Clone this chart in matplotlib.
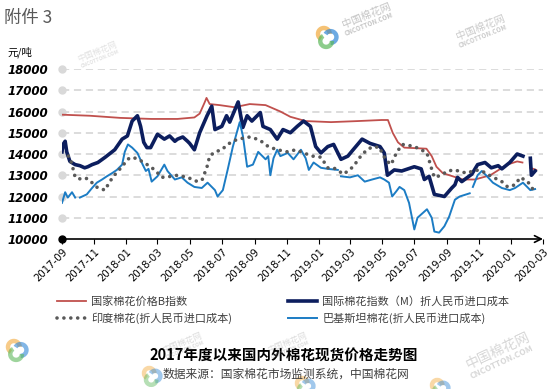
import matplotlib
matplotlib.use('Agg')
import matplotlib.pyplot as plt
import matplotlib.dates as mdates
from matplotlib.patches import Arc
import numpy as np
import pandas as pd

plt.rcParams['font.family'] = ['Noto Sans CJK SC', 'DejaVu Sans']
nan = np.nan

# 国家棉花价格B指数
b_dates = ["2017-09-01", "2017-10-24", "2017-12-20", "2018-02-17", "2018-04-08", "2018-05-10",
           "2018-05-20", "2018-05-29", "2018-06-02", "2018-06-08", "2018-06-27", "2018-07-25",
           "2018-08-23", "2018-09-22", "2018-10-20", "2018-11-08", "2018-12-07", "2019-01-24",
           "2019-03-16", "2019-04-30", "2019-05-12", "2019-05-21", "2019-05-31", "2019-06-12",
           "2019-07-24", "2019-08-03", "2019-08-12", "2019-08-24", "2019-09-12", "2019-10-01",
           "2019-10-24", "2019-11-22", "2019-12-24", "2020-01-12", "2020-01-22", "2020-01-30",
           "2020-02-06", "2020-02-17"]
b_vals = [15850, 15800, 15700, 15650, 15650, 15720,
          15900, 16400, 16640, 16350, 16300, 16200,
          16350, 16300, 16000, 15750, 15550, 15500,
          15550, 15600, 15600, 15000, 14550, 14300,
          14250, 13900, 13400, 13100, 12950, 12800,
          12800, 13000, 13500, 13650, 13600, nan,
          13350, 13250]

# 国际棉花指数（M）折人民币进口成本
m_dates = ["2017-09-01", "2017-09-03", "2017-09-07", "2017-09-10", "2017-09-16", "2017-09-26",
           "2017-10-05", "2017-10-14", "2017-10-20", "2017-10-28", "2017-11-08", "2017-11-22",
           "2017-12-10", "2017-12-24", "2018-01-03", "2018-01-12", "2018-01-22", "2018-01-28",
           "2018-02-03", "2018-02-09", "2018-02-16", "2018-03-01", "2018-03-14", "2018-03-24",
           "2018-04-03", "2018-04-08", "2018-04-18", "2018-04-27", "2018-05-01", "2018-05-10",
           "2018-05-20", "2018-06-03", "2018-06-12", "2018-06-18", "2018-07-01", "2018-07-10",
           "2018-07-16", "2018-08-01", "2018-08-10", "2018-08-18", "2018-08-27", "2018-09-12",
           "2018-09-17", "2018-10-01", "2018-10-14", "2018-10-25", "2018-11-08", "2018-11-21",
           "2018-12-03", "2018-12-16", "2018-12-26", "2019-01-05", "2019-01-18", "2019-01-29",
           "2019-02-12", "2019-02-25", "2019-03-07", "2019-03-24", "2019-04-08", "2019-04-27",
           "2019-05-05", "2019-05-11", "2019-05-24", "2019-06-07", "2019-06-25", "2019-07-01",
           "2019-07-14", "2019-07-20", "2019-07-29", "2019-08-08", "2019-08-27", "2019-09-10",
           "2019-09-16", "2019-09-21", "2019-09-29", "2019-10-18", "2019-10-29", "2019-11-12",
           "2019-11-24", "2019-12-07", "2019-12-14", "2019-12-29", "2020-01-12", "2020-01-23",
           "2020-01-30", "2020-02-06", "2020-02-08", "2020-02-15"]
m_vals = [14100, 14450, 14600, 14100, 13650, 13500,
          13450, 13350, 13400, 13500, 13600, 13850,
          14200, 14700, 14850, 15550, 15800, 15300,
          14550, 14300, 14300, 14930, 14700, 14850,
          14600, 14700, 14800, 14600, 14500, 14200,
          15000, 15800, 16250, 15150, 15300, 15800,
          15500, 16450, 15250, 15800, 15550, 15950,
          15300, 15150, 14700, 15150, 15000, 15300,
          15550, 15300, 14350, 14050, 14350, 14450,
          13750, 13900, 14200, 14700, 14500, 14350,
          14050, 13000, 13250, 13200, 13350, 13400,
          13300, 12800, 12950, 12100, 12000, 12400,
          12550, 12900, 12700, 13050, 13500, 13600,
          13350, 13450, 13300, 13600, 14000, 13900,
          nan, 13800, 13000, 13200]

# 印度棉花(折人民币进口成本)
i_dates = ["2017-09-13", "2017-09-16", "2017-09-22", "2017-09-26", "2017-10-09", "2017-10-18",
           "2017-10-28", "2017-11-08", "2017-11-22", "2017-11-27", "2017-12-06", "2017-12-16",
           "2017-12-24", "2018-01-03", "2018-01-12", "2018-01-24", "2018-02-03", "2018-02-16",
           "2018-02-26", "2018-03-09", "2018-03-28", "2018-04-08", "2018-04-27", "2018-05-16",
           "2018-05-25", "2018-06-03", "2018-06-08", "2018-06-18", "2018-07-01", "2018-07-12",
           "2018-07-22", "2018-08-01", "2018-08-23", "2018-09-06", "2018-09-17", "2018-09-27",
           "2018-10-14", "2018-11-03", "2018-11-18", "2018-12-03", "2018-12-20", "2019-01-05",
           "2019-01-18", "2019-01-29", "2019-02-17", "2019-03-07", "2019-03-20", "2019-04-02",
           "2019-04-14", "2019-04-27", "2019-05-01", "2019-05-11", "2019-05-18", "2019-05-28",
           "2019-06-08", "2019-06-21", "2019-07-01", "2019-07-14", "2019-07-25", "2019-08-04",
           "2019-08-08", "2019-08-21", "2019-09-02", "2019-09-16", "2019-09-29", "2019-10-10",
           "2019-10-24", "2019-11-06", "2019-11-24", "2019-12-14", "2019-12-25", "2020-01-08",
           "2020-01-18", "2020-02-01", "2020-02-12"]
i_vals = [13900, 13850, 13300, 12900, 12800, 12850,
          12650, 12400, 12300, 12550, 12900, 13200,
          13400, 13750, 13850, 13750, 13600, 13400,
          13200, 12900, 12950, 13000, 12900, 12700,
          12800, 13400, 13900, 14100, 14200, 14450,
          14600, 14700, 14800, 14700, 14550, 14350,
          14200, 14100, 14200, 14050, 13900, 13850,
          13350, 13350, 13050, 13400, 13850, 14200,
          14350, 14300, 14000, 13650, 13500, 14050,
          14450, 14400, 14350, 14200, 14050, 13200,
          12900, 13000, 13200, 13250, 13150, 13100,
          13250, 13200, 12950, 12700, 12450, 12550,
          12900, 12700, 12300]

# 巴基斯坦棉花(折人民币进口成本)
p_dates = ["2017-09-01", "2017-09-07", "2017-09-12", "2017-09-20", "2017-09-26", "2017-09-29",
           "2017-10-05", "2017-10-18", "2017-10-28", "2017-11-06", "2017-11-16", "2017-11-25",
           "2017-12-05", "2017-12-14", "2017-12-24", "2017-12-29", "2018-01-04", "2018-01-12",
           "2018-01-22", "2018-02-01", "2018-02-07", "2018-02-12", "2018-02-18", "2018-03-01",
           "2018-03-14", "2018-03-20", "2018-04-03", "2018-04-16", "2018-04-27", "2018-05-10",
           "2018-05-24", "2018-06-04", "2018-06-18", "2018-06-23", "2018-07-03", "2018-07-12",
           "2018-07-22", "2018-08-04", "2018-08-10", "2018-08-18", "2018-08-29", "2018-09-08",
           "2018-09-22", "2018-09-27", "2018-10-01", "2018-10-07", "2018-10-14", "2018-10-20",
           "2018-11-03", "2018-11-14", "2018-11-28", "2018-12-07", "2018-12-13", "2018-12-22",
           "2019-01-05", "2019-01-18", "2019-02-06", "2019-02-08", "2019-02-12", "2019-03-01",
           "2019-03-16", "2019-03-29", "2019-04-12", "2019-04-27", "2019-05-05", "2019-05-14",
           "2019-05-20", "2019-05-28", "2019-06-03", "2019-06-12", "2019-06-21", "2019-07-01",
           "2019-07-07", "2019-07-16", "2019-07-25", "2019-08-03", "2019-08-08", "2019-08-17",
           "2019-08-27", "2019-09-05", "2019-09-16", "2019-09-25", "2019-10-14", "2019-10-16",
           "2019-10-20", "2019-10-29", "2019-11-06", "2019-11-16", "2019-11-27", "2019-12-14",
           "2019-12-29", "2020-01-08", "2020-01-23", "2020-02-06", "2020-02-15"]
p_vals = [11700, 12200, 11950, 12200, 11950, nan,
          11950, 12100, 12400, 12650, 12800, 12950,
          13100, 13250, 13500, 14100, 14450, 14300,
          14050, 13500, 13200, 13300, 12700, 12950,
          13500, 13200, 12800, 12900, 12650, 12450,
          12400, 12650, 12300, 12000, 12300, 13250,
          14350, 15500, 14850, 13400, 13500, 14100,
          13750, 13900, 13000, 13800, 14200, 13900,
          14050, 13750, 14200, 13800, 13250, 13600,
          13350, 13300, 13250, nan, 12950, 12900,
          13000, 12700, 12800, 12900, 12800, 12650,
          12000, 12250, 12450, 12300, 11700, 10450,
          11000, 11200, 11400, 11000, 10350, 10300,
          10600, 11050, 11850, 12000, 12150, nan,
          12450, 13000, 13200, 12950, 12650, 12400,
          12300, 12400, 12650, 12300, 12350]

y_ticks = [10000, 11000, 12000, 13000, 14000, 15000, 16000, 17000, 18000]
labels = ["国家棉花价格B指数", "国际棉花指数（M）折人民币进口成本",
          "印度棉花(折人民币进口成本)", "巴基斯坦棉花(折人民币进口成本)"]

fig = plt.figure(figsize=(5.5, 3.89), dpi=100)

# overlay in pixel coords for texts and watermarks
ov = fig.add_axes([0, 0, 1, 1], zorder=0)
ov.set_xlim(0, 550)
ov.set_ylim(389, 0)
ov.axis('off')

ax = fig.add_axes([62 / 550, 150 / 389, 481 / 550, 170 / 389], zorder=1)
ax.set_facecolor('none')

x0, x1 = pd.Timestamp("2017-09-01"), pd.Timestamp("2020-03-01")
ax.set_xlim(x0, x1)
ax.set_ylim(10000, 18000)

for y in y_ticks[1:]:
    ax.axhline(y, color='#D9D9D9', lw=1.3, dashes=(4, 2.6), zorder=0)
ax.plot([x0] * 8, y_ticks[1:], 'o', ms=5, color='#D9D9D9', clip_on=False, zorder=1)
ax.plot([x0], [10000], 'o', ms=5, color='black', clip_on=False, zorder=5)

l_b, = ax.plot(pd.to_datetime(b_dates), b_vals, color='#C0504D', lw=1.3, zorder=2)
l_m, = ax.plot(pd.to_datetime(m_dates), m_vals, color='#0C1E5E', lw=2.6, zorder=3)
l_p, = ax.plot(pd.to_datetime(p_dates), p_vals, color='#1C7CC4', lw=1.4, zorder=4)
l_i, = ax.plot(pd.to_datetime(i_dates), i_vals, color='#595959', lw=2.6,
               linestyle=(0, (0.01, 1.9)), dash_capstyle='round', zorder=5)

for s in ax.spines.values():
    s.set_visible(False)
ax.annotate('', xy=(1.0, 0), xytext=(0, 0), xycoords='axes fraction',
            arrowprops=dict(arrowstyle='->', lw=1.2, color='black',
                            shrinkA=0, shrinkB=0, mutation_scale=12), zorder=6)

ax.set_yticks(y_ticks)
ax.set_yticklabels([str(v) for v in y_ticks], fontfamily='DejaVu Sans',
                   fontweight='bold', fontstyle='italic', fontsize=8.5)
ax.tick_params(axis='y', length=0, pad=10)

ax.xaxis.set_major_locator(mdates.MonthLocator(bymonth=(1, 3, 5, 7, 9, 11)))
ax.xaxis.set_major_formatter(mdates.DateFormatter('%Y-%m'))
ax.tick_params(axis='x', length=3.5, width=0.8, color='black', pad=2)
for t in ax.get_xticklabels():
    t.set_rotation(45)
    t.set_ha('right')
    t.set_rotation_mode('anchor')
    t.set_fontfamily('DejaVu Sans')
    t.set_fontsize(7.3)

leg = fig.legend([l_b, l_i, l_m, l_p], [labels[0], labels[2], labels[1], labels[3]],
                 ncol=2, loc='upper left', bbox_to_anchor=(57 / 550, 1 - 296 / 389),
                 frameon=False, fontsize=8, handlelength=2.6, handletextpad=0.5,
                 columnspacing=5.0, labelspacing=0.55, borderpad=0, borderaxespad=0)
for t in leg.get_texts():
    t.set_color('#404040')

# headings
ov.text(4, 18, "附件 3", fontsize=12.5, color='#595959', va='center', ha='left')
ov.text(7, 52, "元/吨", fontsize=7.5, color='black', va='center', ha='left')
ov.text(284, 356, "2017年度以来国内外棉花现货价格走势图", fontsize=10.5,
        fontweight='bold', ha='center', va='center', color='black')
ov.text(286, 374, "数据来源：国家棉花市场监测系统，中国棉花网", fontsize=8.5,
        ha='center', va='center', color='#404040')


# watermarks
def logo(cx, cy, r, alpha):
    for dx, dy, col, t1, t2 in [(-0.35, -0.35, '#F2A93B', 120, 360),
                                (0.4, 0.0, '#2F86D6', 210, 450),
                                (-0.1, 0.45, '#5DB85B', 0, 240)]:
        ov.add_patch(Arc((cx + dx * r, cy + dy * r), 1.3 * r, 1.3 * r, theta1=t1, theta2=t2,
                         color=col, lw=3.2, alpha=alpha))


def mark(x, y, size, alpha, rot=22):
    ov.text(x, y, "中国棉花网", fontsize=size, rotation=rot, color='#8C8C8C', alpha=alpha,
            ha='left', va='bottom', rotation_mode='anchor')
    ov.text(x + 2, y + size * 0.9, "CNCOTTON.COM", fontsize=size * 0.6, rotation=rot,
            color='#8C8C8C', alpha=alpha, fontweight='bold', ha='left', va='bottom',
            rotation_mode='anchor')


logo(327, 37, 9, 0.7)
mark(344, 30, 7.5, 0.5)
mark(458, 42, 7.5, 0.45)
mark(80, 64, 6, 0.25)
logo(17, 350, 9, 0.6)
mark(165, 355, 6, 0.3)
logo(152, 376, 8, 0.45)
mark(270, 355, 6, 0.3)
logo(305, 386, 8, 0.45)
mark(470, 372, 10, 0.35, rot=25)
logo(440, 388, 8, 0.45)

fig.savefig('out.png', dpi=100)
